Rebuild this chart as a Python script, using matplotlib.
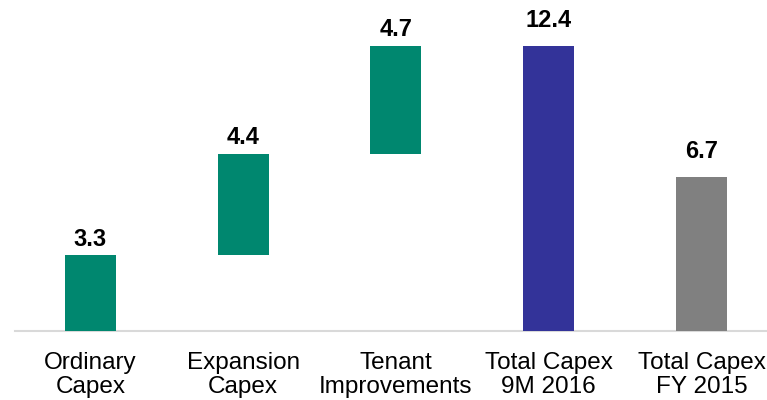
import numpy as np
import matplotlib
matplotlib.use('Agg')
import matplotlib.pyplot as plt

plt.rcParams['font.family'] = ['Liberation Sans', 'DejaVu Sans']

# capex bridge, EUR m
categories = ['Ordinary\nCapex', 'Expansion\nCapex', 'Tenant\nImprovements',
              'Total Capex\n9M 2016', 'Total Capex\nFY 2015']
steps = [3.3, 4.4, 4.7]
totals = [12.4, 6.7]

TEAL = '#00876F'
BLUE = '#333399'
GREY = '#808080'


def main():
    step_bottoms = np.concatenate([[0], np.cumsum(steps)[:-1]])
    heights = list(steps) + totals
    bottoms = list(step_bottoms) + [0] * len(totals)
    colors = [TEAL] * len(steps) + [BLUE, GREY]
    x = np.arange(len(categories))

    fig = plt.figure(figsize=(7.67, 4.0), dpi=100)
    ax = fig.add_axes([15 / 767, 69 / 400, 752 / 767, 322 / 400])
    ax.bar(x, heights, bottom=bottoms, width=0.334, color=colors, zorder=2)

    for i, (h, b) in enumerate(zip(heights, bottoms)):
        off = 3.2 if i < len(steps) else 10
        ax.annotate('%.1f' % h, (x[i], b + h), xytext=(0, off),
                    textcoords='offset points', ha='center', va='bottom',
                    fontsize=17, fontweight='bold')

    ax.set_xlim(-0.494, 4.429)
    ax.set_ylim(0, 14)
    ax.axhline(0, color='#D9D9D9', lw=1.5, zorder=1, clip_on=False)
    for s in ax.spines.values():
        s.set_visible(False)
    ax.set_yticks([])
    ax.set_xticks(x)
    ax.set_xticklabels(categories, fontsize=17.5, linespacing=1.1)
    ax.tick_params(axis='x', length=0, pad=15)

    fig.savefig('out.png', dpi=100)


if __name__ == '__main__':
    main()
